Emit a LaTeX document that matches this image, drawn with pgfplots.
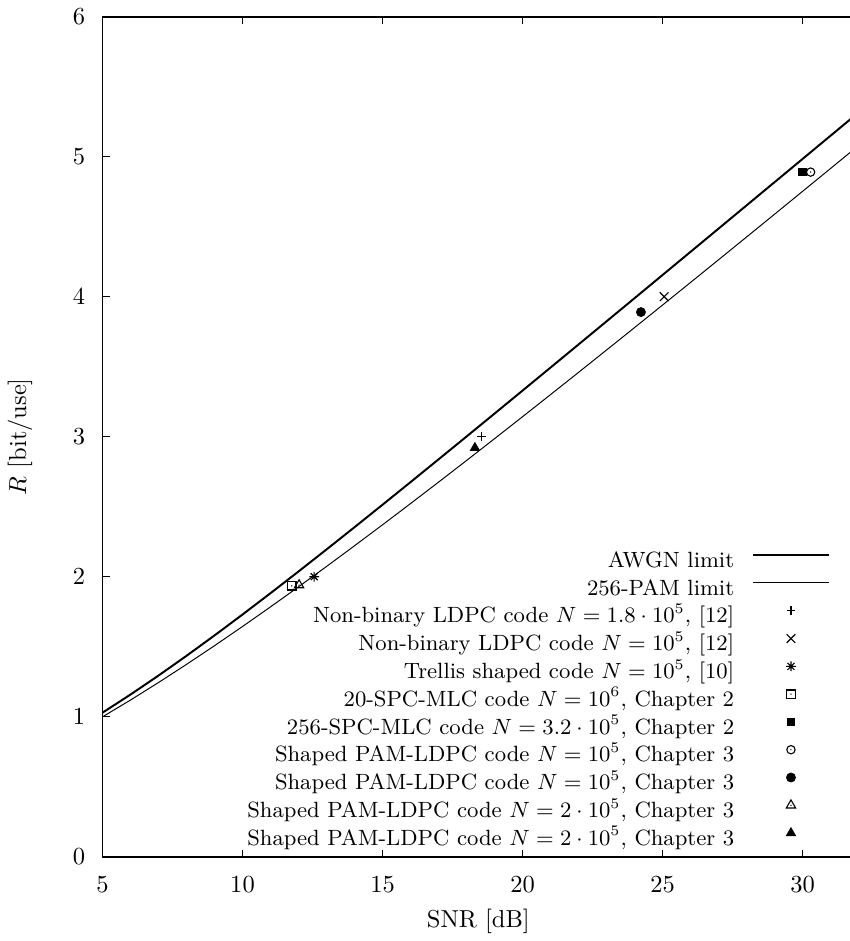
\documentclass[border=0pt]{standalone}
\usepackage{fontspec}
\usepackage{pgfplots}
\pgfplotsset{compat=1.18}

% gnuplot-like point types
\pgfdeclareplotmark{gpstar}{%
  \pgfpathmoveto{\pgfqpoint{-\pgfplotmarksize}{0pt}}\pgfpathlineto{\pgfqpoint{\pgfplotmarksize}{0pt}}%
  \pgfpathmoveto{\pgfqpoint{0pt}{-\pgfplotmarksize}}\pgfpathlineto{\pgfqpoint{0pt}{\pgfplotmarksize}}%
  \pgfpathmoveto{\pgfqpoint{-.7071\pgfplotmarksize}{-.7071\pgfplotmarksize}}\pgfpathlineto{\pgfqpoint{.7071\pgfplotmarksize}{.7071\pgfplotmarksize}}%
  \pgfpathmoveto{\pgfqpoint{-.7071\pgfplotmarksize}{.7071\pgfplotmarksize}}\pgfpathlineto{\pgfqpoint{.7071\pgfplotmarksize}{-.7071\pgfplotmarksize}}%
  \pgfusepathqstroke}
\pgfdeclareplotmark{gpbox}{%
  \pgfpathrectangle{\pgfqpoint{-\pgfplotmarksize}{-\pgfplotmarksize}}{\pgfqpoint{2\pgfplotmarksize}{2\pgfplotmarksize}}%
  \pgfusepathqstroke
  \pgfpathcircle{\pgfpointorigin}{0.3pt}\pgfusepathqfill}
\pgfdeclareplotmark{gpcirc}{%
  \pgfpathcircle{\pgfpointorigin}{\pgfplotmarksize}\pgfusepathqstroke
  \pgfpathcircle{\pgfpointorigin}{0.3pt}\pgfusepathqfill}
\pgfdeclareplotmark{gptri}{%
  \pgfpathmoveto{\pgfqpoint{0pt}{\pgfplotmarksize}}%
  \pgfpathlineto{\pgfqpoint{-.866\pgfplotmarksize}{-.5\pgfplotmarksize}}%
  \pgfpathlineto{\pgfqpoint{.866\pgfplotmarksize}{-.5\pgfplotmarksize}}%
  \pgfpathclose\pgfusepathqstroke
  \pgfpathcircle{\pgfpointorigin}{0.3pt}\pgfusepathqfill}

% capacity of the AWGN channel, R = 1/2 log2(1+SNR)
\pgfplotstableread{
snr   R
5     1.02868
6     1.15823
7     1.29391
8     1.43489
9     1.58040
10    1.72972
11    1.88219
12    2.03726
13    2.19452
14    2.35350
15    2.51390
16    2.67543
17    2.83789
18    3.00107
19    3.16485
20    3.32910
21    3.49373
22    3.65865
23    3.82382
24    3.98915
25    4.15469
26    4.32032
27    4.48605
28    4.65186
29    4.81770
30    4.98361
31    5.14959
32    5.31555
}\awgn

% mutual information of uniform 256-PAM
\pgfplotstableread{
snr   R
5     0.99888
6     1.11898
7     1.24407
8     1.37363
9     1.50716
10    1.64423
11    1.78446
12    1.92750
13    2.07305
14    2.22083
15    2.37060
16    2.52216
17    2.67528
18    2.82983
19    2.98562
20    3.14254
21    3.30046
22    3.45926
23    3.61886
24    3.77916
25    3.94010
26    4.10160
27    4.26359
28    4.42604
29    4.58887
30    4.75207
31    4.91558
32    5.07937
}\pam

\begin{document}
\begin{tikzpicture}
\begin{axis}[
  scale only axis,
  width=308.45pt, height=342.72pt,
  xmin=5, xmax=32, ymin=0, ymax=6,
  xtick={5,10,15,20,25,30},
  ytick={0,1,2,3,4,5,6},
  tick align=inside,
  major tick length=2.9pt,
  minor tick num=0,
  axis line style={line width=0.7pt},
  every tick/.style={line width=0.6pt, black},
  xticklabel style={yshift=-4.8pt},
  yticklabel style={xshift=-3.6pt},
  xlabel={SNR [dB]},
  ylabel={$R$ [bit/use]},
  every axis x label/.style={at={([xshift=-0.9pt,yshift=-26.2pt]axis description cs:0.5,0)}, anchor=center},
  every axis y label/.style={at={([xshift=-33.7pt]axis description cs:0,0.5)}, rotate=90, anchor=center},
  legend plot pos=right,
  legend cell align=right,
  legend style={draw=none, fill=none, inner sep=0pt, outer sep=0pt,
    row sep=0pt, column sep=7.3pt,
    font=\fontsize{9}{10}\selectfont,
    nodes={inner sep=0pt, text height=8pt, text depth=3.34pt},
    at={(axis cs:30.98,2.2077)}, anchor=north east},
  legline/.style={legend image code/.code={\draw[##1, line width=#1] (0pt,2.6pt) -- (31pt,2.6pt);}},
  legmark/.style={legend image code/.code={\draw[##1] plot coordinates {(15.5pt,2.6pt)};}},
]
\addplot[black, line width=0.8pt, legline=0.8pt] table[x=snr, y=R] {\awgn};
\addlegendentry{AWGN limit}
\addplot[black, line width=0.4pt, legline=0.4pt] table[x=snr, y=R] {\pam};
\addlegendentry{256-PAM limit}

\addplot[only marks, mark=+, mark size=1.8pt, black, line width=0.45pt, legmark] coordinates {(18.55,3.0)};
\addlegendentry{Non-binary LDPC code $N=1.8\cdot10^5$, [12]}
\addplot[only marks, mark=x, mark size=2.5pt, black, line width=0.45pt, legmark] coordinates {(25.06,4.0)};
\addlegendentry{Non-binary LDPC code $N=10^5$, [12]}
\addplot[only marks, mark=gpstar, mark size=2pt, black, line width=0.45pt, legmark] coordinates {(12.56,2.0)};
\addlegendentry{Trellis shaped code $N=10^5$, [10]}
\addplot[only marks, mark=gpbox, mark size=1.7pt, black, line width=0.45pt, legmark] coordinates {(11.76,1.935)};
\addlegendentry{20-SPC-MLC code $N=10^6$, Chapter 2}
\addplot[only marks, mark=square*, mark size=1.5pt, black, line width=0.3pt, legmark] coordinates {(29.99,4.89)};
\addlegendentry{256-SPC-MLC code $N=3.2\cdot10^5$, Chapter 2}
\addplot[only marks, mark=gpcirc, mark size=1.7pt, black, line width=0.45pt, legmark] coordinates {(30.29,4.89)};
\addlegendentry{Shaped PAM-LDPC code $N=10^5$, Chapter 3}
\addplot[only marks, mark=*, mark size=1.85pt, black, line width=0.3pt, legmark] coordinates {(24.23,3.89)};
\addlegendentry{Shaped PAM-LDPC code $N=10^5$, Chapter 3}
\addplot[only marks, mark=gptri, mark size=2.2pt, black, line width=0.45pt, legmark] coordinates {(12.02,1.94)};
\addlegendentry{Shaped PAM-LDPC code $N=2\cdot10^5$, Chapter 3}
\addplot[only marks, mark=triangle*, mark size=2.2pt, black, line width=0.3pt, legmark] coordinates {(18.30,2.92)};
\addlegendentry{Shaped PAM-LDPC code $N=2\cdot10^5$, Chapter 3}
\end{axis}
\pgfresetboundingbox
\useasboundingbox ([shift={(-41.82pt,-34.39pt)}]current axis.south west) rectangle ([shift={(304.57pt,349.53pt)}]current axis.south west);
\end{tikzpicture}
\end{document}
